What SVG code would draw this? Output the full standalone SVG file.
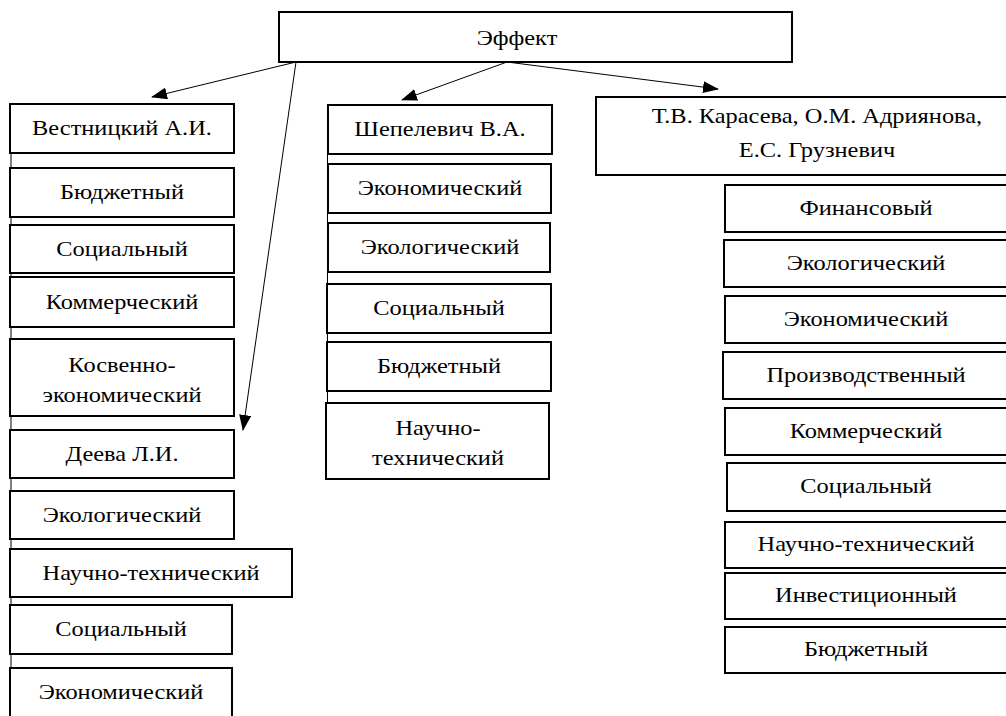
<svg xmlns="http://www.w3.org/2000/svg" width="1006" height="716" viewBox="0 0 1006 716">
<style>
.b{fill:#fff;stroke:#000;stroke-width:2}
.t{font-family:"Liberation Serif","Times New Roman",serif;font-size:20px;fill:#000;text-anchor:middle}
.c{stroke:#000;stroke-width:1;fill:none}
.v{stroke:#000;stroke-width:1}
</style>
<defs>
<marker id="ah" markerWidth="16" markerHeight="12" refX="15" refY="6" orient="auto" markerUnits="userSpaceOnUse">
<path d="M0,0 L16,6 L0,12 Z" fill="#000"/>
</marker>
</defs>
<rect width="1006" height="716" fill="#fff"/>
<g id="guides">
<line class="v" x1="11" y1="104" x2="11" y2="716"/>
<line class="v" x1="327.5" y1="105" x2="327.5" y2="479"/>
</g>
<g id="connectors">
<line class="c" x1="296" y1="62" x2="152" y2="97" marker-end="url(#ah)"/>
<line class="c" x1="296" y1="62" x2="243" y2="430" marker-end="url(#ah)"/>
<line class="c" x1="507" y1="62" x2="402" y2="100" marker-end="url(#ah)"/>
<line class="c" x1="507" y1="62" x2="718" y2="89" marker-end="url(#ah)"/>
</g>
<g id="root"><rect class="b" x="279" y="12" width="513" height="50"/><text class="t" transform="matrix(1.22 0 0 1 517 45)">Эффект</text></g>

<g id="l1"><rect class="b" x="10" y="104" width="224" height="49"/><text class="t" transform="matrix(1.22 0 0 1 122 135)">Вестницкий А.И.</text></g>
<g id="l2"><rect class="b" x="10" y="168" width="224" height="49"/><text class="t" transform="matrix(1.22 0 0 1 122 199)">Бюджетный</text></g>
<g id="l3"><rect class="b" x="10" y="225" width="224" height="48"/><text class="t" transform="matrix(1.22 0 0 1 122 256)">Социальный</text></g>
<g id="l4"><rect class="b" x="10" y="277" width="224" height="50"/><text class="t" transform="matrix(1.22 0 0 1 122 309)">Коммерческий</text></g>
<g id="l5"><rect class="b" x="10" y="339" width="224" height="77"/><text class="t" transform="matrix(1.22 0 0 1 122 372)">Косвенно-</text><text class="t" transform="matrix(1.22 0 0 1 122 402)">экономический</text></g>
<g id="l6"><rect class="b" x="10" y="430" width="224" height="48"/><text class="t" transform="matrix(1.22 0 0 1 122 461)">Деева Л.И.</text></g>
<g id="l7"><rect class="b" x="10" y="491" width="224" height="48"/><text class="t" transform="matrix(1.22 0 0 1 122 522)">Экологический</text></g>
<g id="l8"><rect class="b" x="10" y="549" width="282" height="48"/><text class="t" transform="matrix(1.22 0 0 1 151 580)">Научно-технический</text></g>
<g id="l9"><rect class="b" x="10" y="605" width="222" height="49"/><text class="t" transform="matrix(1.22 0 0 1 121 636)">Социальный</text></g>
<g id="l10"><rect class="b" x="10" y="668" width="222" height="60"/><text class="t" transform="matrix(1.22 0 0 1 121 699)">Экономический</text></g>

<g id="m1"><rect class="b" x="328" y="105" width="224" height="49"/><text class="t" transform="matrix(1.22 0 0 1 440 136)">Шепелевич В.А.</text></g>
<g id="m2"><rect class="b" x="328" y="164" width="223" height="49"/><text class="t" transform="matrix(1.22 0 0 1 440 195)">Экономический</text></g>
<g id="m3"><rect class="b" x="328" y="223" width="222" height="49"/><text class="t" transform="matrix(1.22 0 0 1 440 254)">Экологический</text></g>
<g id="m4"><rect class="b" x="327" y="284" width="224" height="49"/><text class="t" transform="matrix(1.22 0 0 1 439 315)">Социальный</text></g>
<g id="m5"><rect class="b" x="327" y="342" width="224" height="49"/><text class="t" transform="matrix(1.22 0 0 1 439 373)">Бюджетный</text></g>
<g id="m6"><rect class="b" x="326" y="403" width="223" height="76"/><text class="t" transform="matrix(1.22 0 0 1 438 435)">Научно-</text><text class="t" transform="matrix(1.22 0 0 1 438 465)">технический</text></g>

<g id="r0"><rect class="b" x="596" y="97" width="420" height="78"/><text class="t" transform="matrix(1.22 0 0 1 817 123)">Т.В. Карасева, О.М. Адриянова,</text><text class="t" transform="matrix(1.22 0 0 1 817 157)">Е.С. Грузневич</text></g>
<g id="r1"><rect class="b" x="725" y="185" width="290" height="47"/><text class="t" transform="matrix(1.22 0 0 1 866 215)">Финансовый</text></g>
<g id="r2"><rect class="b" x="724" y="240" width="290" height="47"/><text class="t" transform="matrix(1.22 0 0 1 866 270)">Экологический</text></g>
<g id="r3"><rect class="b" x="725" y="296" width="290" height="47"/><text class="t" transform="matrix(1.22 0 0 1 866 326)">Экономический</text></g>
<g id="r4"><rect class="b" x="723" y="352" width="290" height="47"/><text class="t" transform="matrix(1.22 0 0 1 866 382)">Производственный</text></g>
<g id="r5"><rect class="b" x="725" y="408" width="290" height="47"/><text class="t" transform="matrix(1.22 0 0 1 866 438)">Коммерческий</text></g>
<g id="r6"><rect class="b" x="727" y="463" width="290" height="48"/><text class="t" transform="matrix(1.22 0 0 1 866 493)">Социальный</text></g>
<g id="r7"><rect class="b" x="725" y="522" width="290" height="46"/><text class="t" transform="matrix(1.22 0 0 1 866 551)">Научно-технический</text></g>
<g id="r8"><rect class="b" x="725" y="573" width="290" height="46"/><text class="t" transform="matrix(1.22 0 0 1 866 602)">Инвестиционный</text></g>
<g id="r9"><rect class="b" x="725" y="627" width="290" height="46"/><text class="t" transform="matrix(1.22 0 0 1 866 656)">Бюджетный</text></g>
</svg>
